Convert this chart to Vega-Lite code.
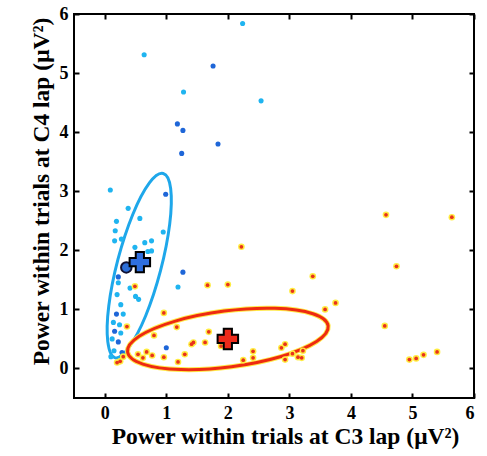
{
  "$schema": "https://vega.github.io/schema/vega-lite/v6.json",
  "width": 400,
  "height": 384,
  "autosize": {"type": "none"},
  "padding": {"left": 74, "top": 14, "right": 13, "bottom": 58},
  "background": "white",
  "config": {
    "view": {"stroke": "black", "strokeWidth": 2},
    "axis": {
      "domain": false, "grid": false,
      "labelFont": "Liberation Serif", "labelFontSize": 18, "labelFontWeight": "bold", "labelColor": "black",
      "tickColor": "black", "tickSize": -5, "tickWidth": 2,
      "titleFont": "Liberation Serif", "titleFontSize": 23.5, "titleFontWeight": "bold", "titleColor": "black"
    }
  },
  "datasets": {
    "blue": [
      {"x": 0.64, "y": 5.31, "s": "L"}, {"x": 2.24, "y": 5.84, "s": "L"}, {"x": 1.76, "y": 5.12, "s": "D"},
      {"x": 1.28, "y": 4.68, "s": "L"}, {"x": 2.54, "y": 4.53, "s": "L"}, {"x": 1.18, "y": 4.14, "s": "D"},
      {"x": 1.27, "y": 4.03, "s": "D"}, {"x": 1.84, "y": 3.80, "s": "D"}, {"x": 1.25, "y": 3.64, "s": "D"},
      {"x": 0.09, "y": 3.02, "s": "L"}, {"x": 0.99, "y": 2.95, "s": "D"}, {"x": 0.38, "y": 2.71, "s": "L"},
      {"x": 0.57, "y": 2.54, "s": "L"}, {"x": 0.19, "y": 2.49, "s": "L"}, {"x": 0.17, "y": 2.33, "s": "L"},
      {"x": 0.95, "y": 2.31, "s": "L"}, {"x": 0.27, "y": 2.19, "s": "L"}, {"x": 0.16, "y": 2.16, "s": "L"},
      {"x": 0.65, "y": 2.13, "s": "L"}, {"x": 0.76, "y": 2.16, "s": "L"}, {"x": 0.76, "y": 1.99, "s": "L"},
      {"x": 0.70, "y": 1.98, "s": "L"}, {"x": 0.49, "y": 2.05, "s": "L"}, {"x": 1.27, "y": 1.63, "s": "D"},
      {"x": 1.19, "y": 1.38, "s": "L"}, {"x": 0.41, "y": 1.36, "s": "L"}, {"x": 0.50, "y": 1.22, "s": "L"},
      {"x": 0.55, "y": 1.17, "s": "L"}, {"x": 0.22, "y": 1.55, "s": "D"}, {"x": 0.22, "y": 1.45, "s": "L"},
      {"x": 0.20, "y": 1.25, "s": "L"}, {"x": 0.26, "y": 1.08, "s": "L"}, {"x": 0.19, "y": 0.92, "s": "D"},
      {"x": 0.30, "y": 0.92, "s": "L"}, {"x": 0.14, "y": 0.78, "s": "L"}, {"x": 0.24, "y": 0.74, "s": "L"},
      {"x": 0.16, "y": 0.63, "s": "D"}, {"x": 0.26, "y": 0.60, "s": "L"}, {"x": 0.12, "y": 0.50, "s": "L"},
      {"x": 0.22, "y": 0.45, "s": "D"}, {"x": 0.15, "y": 0.30, "s": "L"}, {"x": 0.28, "y": 0.27, "s": "D"},
      {"x": 0.10, "y": 0.20, "s": "L"}, {"x": 0.30, "y": 0.20, "s": "L"}, {"x": 1.00, "y": 0.35, "s": "D"},
      {"x": 0.25, "y": 0.15, "s": "L"}
    ],
    "red": [
      {"x": 2.22, "y": 2.06}, {"x": 1.67, "y": 1.41}, {"x": 2.00, "y": 1.42}, {"x": 3.38, "y": 1.56},
      {"x": 3.05, "y": 1.31}, {"x": 3.75, "y": 1.11}, {"x": 3.58, "y": 1.00}, {"x": 1.69, "y": 0.62},
      {"x": 1.44, "y": 0.44}, {"x": 1.63, "y": 0.44}, {"x": 1.89, "y": 0.38}, {"x": 2.41, "y": 0.29},
      {"x": 2.41, "y": 0.18}, {"x": 2.25, "y": 0.14}, {"x": 2.93, "y": 0.41}, {"x": 2.87, "y": 0.35},
      {"x": 2.93, "y": 0.15}, {"x": 3.20, "y": 0.18}, {"x": 3.22, "y": 0.30}, {"x": 3.05, "y": 0.25},
      {"x": 4.57, "y": 2.60}, {"x": 5.64, "y": 2.56}, {"x": 4.74, "y": 1.73}, {"x": 4.55, "y": 0.72},
      {"x": 4.95, "y": 0.15}, {"x": 5.06, "y": 0.17}, {"x": 5.18, "y": 0.23}, {"x": 5.40, "y": 0.28},
      {"x": 0.49, "y": 1.39}, {"x": 0.96, "y": 0.94}, {"x": 0.36, "y": 0.71}, {"x": 1.17, "y": 0.70},
      {"x": 0.80, "y": 0.56}, {"x": 0.68, "y": 0.28}, {"x": 0.54, "y": 0.24}, {"x": 0.77, "y": 0.22},
      {"x": 0.96, "y": 0.19}, {"x": 1.30, "y": 0.24}, {"x": 1.41, "y": 0.41}, {"x": 1.19, "y": 0.11},
      {"x": 0.20, "y": 0.10}, {"x": 0.25, "y": 0.12}, {"x": 0.30, "y": 0.20}, {"x": 0.62, "y": 0.18},
      {"x": 3.14, "y": 0.19}
    ],
    "ellBlue": [
      {"i": 0, "x": 0.95, "y": 3.30}, {"i": 1, "x": 1.071, "y": 3.045}, {"i": 2, "x": 1.055, "y": 2.443},
      {"i": 3, "x": 0.906, "y": 1.655}, {"i": 4, "x": 0.665, "y": 0.893}, {"i": 5, "x": 0.395, "y": 0.36},
      {"i": 6, "x": 0.17, "y": 0.18}, {"i": 7, "x": 0.049, "y": 0.455}, {"i": 8, "x": 0.065, "y": 1.057},
      {"i": 9, "x": 0.214, "y": 1.845}, {"i": 10, "x": 0.455, "y": 2.607}, {"i": 11, "x": 0.725, "y": 3.14}
    ],
    "ellRed": [
      {"i": 0, "x": 3.63, "y": 0.72}, {"i": 1, "x": 3.441, "y": 0.455}, {"i": 2, "x": 2.866, "y": 0.202},
      {"i": 3, "x": 2.059, "y": 0.029}, {"i": 4, "x": 1.236, "y": -0.018}, {"i": 5, "x": 0.618, "y": 0.074},
      {"i": 6, "x": 0.37, "y": 0.28}, {"i": 7, "x": 0.559, "y": 0.545}, {"i": 8, "x": 1.134, "y": 0.798},
      {"i": 9, "x": 1.941, "y": 0.971}, {"i": 10, "x": 2.764, "y": 1.018}, {"i": 11, "x": 3.382, "y": 0.926}
    ],
    "marks": [
      {"x": 0.57, "y": 1.8, "g": "blue"}, {"x": 2.0, "y": 0.5, "g": "red"}
    ]
  },
  "resolve": {"axis": {"x": "independent", "y": "independent"}},
  "layer": [
    {
      "data": {"name": "ellBlue"},
      "mark": {"type": "line", "interpolate": "cardinal-closed", "color": "#1ea7ea", "strokeWidth": 3},
      "encoding": {
        "x": {"field": "x", "type": "quantitative", "scale": {"domain": [-0.5, 6], "nice": false, "zero": false},
              "axis": {"orient": "bottom", "values": [0, 1, 2, 3, 4, 5, 6], "labelPadding": 11, "title": "Power within trials at C3 lap (μV²)", "titlePadding": 2, "titleX": 211}},
        "y": {"field": "y", "type": "quantitative", "scale": {"domain": [-0.5, 6], "nice": false, "zero": false},
              "axis": {"orient": "left", "values": [0, 1, 2, 3, 4, 5, 6], "labelPadding": 11, "title": "Power within trials at C4 lap (μV²)", "titlePadding": 6, "titleY": 177}},
        "order": {"field": "i", "type": "quantitative"}
      }
    },
    {
      "data": {"name": "ellRed"},
      "mark": {"type": "line", "interpolate": "cardinal-closed", "color": "#ffe94a", "strokeWidth": 5},
      "encoding": {
        "x": {"field": "x", "type": "quantitative", "axis": {"orient": "top", "values": [0, 1, 2, 3, 4, 5, 6], "labels": false, "title": null}},
        "y": {"field": "y", "type": "quantitative", "axis": {"orient": "right", "values": [0, 1, 2, 3, 4, 5, 6], "labels": false, "title": null}},
        "order": {"field": "i", "type": "quantitative"}
      }
    },
    {
      "data": {"name": "ellRed"},
      "mark": {"type": "line", "interpolate": "cardinal-closed", "color": "#ee2a10", "strokeWidth": 3},
      "encoding": {
        "x": {"field": "x", "type": "quantitative", "axis": null},
        "y": {"field": "y", "type": "quantitative", "axis": null},
        "order": {"field": "i", "type": "quantitative"}
      }
    },
    {
      "data": {"name": "blue"},
      "mark": {"type": "circle", "size": 26, "opacity": 1},
      "encoding": {
        "x": {"field": "x", "type": "quantitative", "axis": null},
        "y": {"field": "y", "type": "quantitative", "axis": null},
        "color": {"field": "s", "type": "nominal", "scale": {"domain": ["L", "D"], "range": ["#1fb4f0", "#1e66d8"]}, "legend": null}
      }
    },
    {
      "data": {"name": "red"},
      "mark": {"type": "circle", "size": 44, "color": "#ffec40", "opacity": 1},
      "encoding": {
        "x": {"field": "x", "type": "quantitative", "axis": null},
        "y": {"field": "y", "type": "quantitative", "axis": null}
      }
    },
    {
      "data": {"name": "red"},
      "mark": {"type": "circle", "size": 14, "color": "#e8321c", "opacity": 1},
      "encoding": {
        "x": {"field": "x", "type": "quantitative", "axis": null},
        "y": {"field": "y", "type": "quantitative", "axis": null}
      }
    },
    {
      "data": {"values": [{"x": 0.35, "y": 1.71}]},
      "mark": {"type": "point", "shape": "circle", "size": 110, "filled": true, "fill": "#2d6fd8", "stroke": "#111133", "strokeWidth": 2, "opacity": 1},
      "encoding": {
        "x": {"field": "x", "type": "quantitative", "axis": null},
        "y": {"field": "y", "type": "quantitative", "axis": null}
      }
    },
    {
      "data": {"name": "marks"},
      "mark": {"type": "point", "shape": "cross", "size": 420, "filled": true, "stroke": "black", "strokeWidth": 2, "opacity": 1},
      "encoding": {
        "x": {"field": "x", "type": "quantitative", "axis": null},
        "y": {"field": "y", "type": "quantitative", "axis": null},
        "fill": {"field": "g", "type": "nominal", "scale": {"domain": ["blue", "red"], "range": ["#2f6fe0", "#ee2a1a"]}, "legend": null}
      }
    }
  ]
}
